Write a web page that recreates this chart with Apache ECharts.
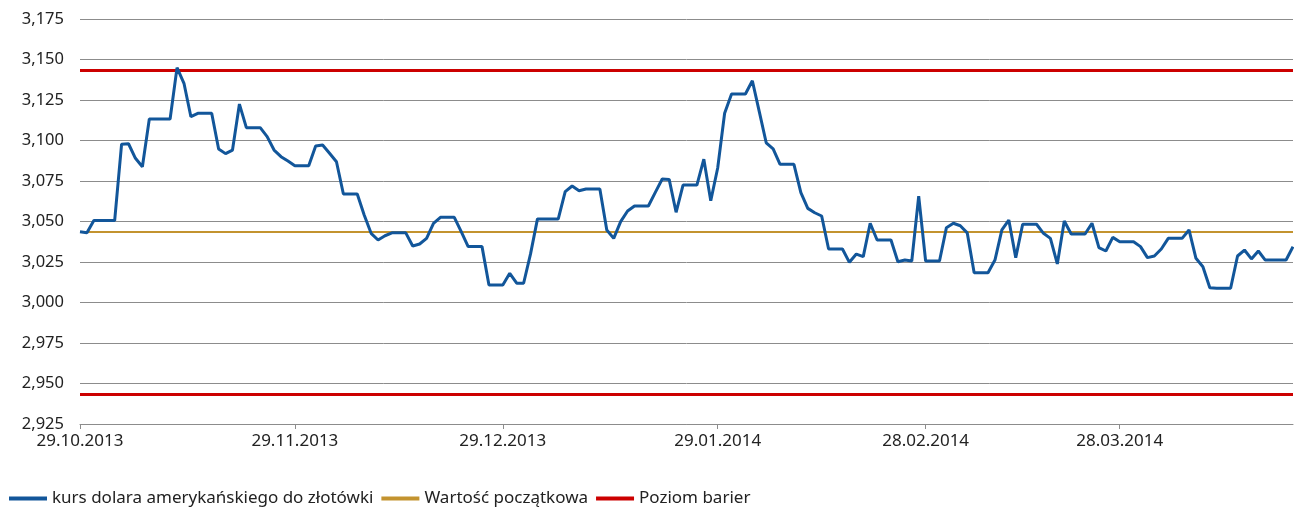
<!DOCTYPE html>
<html>
<head>
<meta charset="utf-8">
<script src="https://cdn.jsdelivr.net/npm/echarts@6/dist/echarts.min.js"></script>
<style>html,body{margin:0;padding:0;background:#fff}#c{width:1294px;height:508px}</style>
</head>
<body>
<div id="c"></div>
<script>
// Daily quotes from 29.10.2013 (weekends/holidays carry previous value)
var startDate = [2013, 10, 29];
var usdPln = [
3.0437,3.0431,3.0506,3.0506,3.0506,3.0506,3.0977,3.0980,3.0890,3.0838,
3.1133,3.1133,3.1133,3.1133,3.1450,3.1353,3.1147,3.1168,3.1168,3.1168,
3.0948,3.0919,3.0941,3.1225,3.1079,3.1079,3.1079,3.1024,3.0941,3.0900,
3.0873,3.0844,3.0844,3.0844,3.0966,3.0972,3.0921,3.0869,3.0670,3.0670,
3.0670,3.0540,3.0427,3.0386,3.0412,3.0430,3.0430,3.0430,3.0349,3.0361,
3.0396,3.0489,3.0526,3.0526,3.0526,3.0437,3.0345,3.0345,3.0345,3.0108,
3.0108,3.0108,3.0180,3.0119,3.0119,3.0300,3.0516,3.0516,3.0516,3.0516,
3.0684,3.0719,3.0690,3.0701,3.0701,3.0701,3.0448,3.0396,3.0499,3.0565,
3.0596,3.0596,3.0596,3.0680,3.0762,3.0760,3.0557,3.0725,3.0725,3.0725,
3.0885,3.0628,3.0830,3.1168,3.1287,3.1287,3.1287,3.1369,3.1178,3.0986,
3.0948,3.0853,3.0853,3.0853,3.0678,3.0581,3.0554,3.0534,3.0330,3.0330,
3.0330,3.0248,3.0299,3.0283,3.0489,3.0386,3.0386,3.0386,3.0252,3.0262,
3.0256,3.0657,3.0256,3.0256,3.0256,3.0462,3.0489,3.0474,3.0430,3.0184,
3.0184,3.0184,3.0262,3.0448,3.0509,3.0277,3.0483,3.0483,3.0483,3.0427,
3.0396,3.0238,3.0503,3.0423,3.0423,3.0423,3.0489,3.0339,3.0318,3.0402,
3.0375,3.0375,3.0375,3.0345,3.0277,3.0287,3.0330,3.0396,3.0396,3.0396,
3.0448,3.0273,3.0221,3.0091,3.0088,3.0088,3.0088,3.0287,3.0324,3.0269,
3.0318,3.0262,3.0262,3.0262,3.0262,3.0345
];
var initialValue = 3.0435;
var barrierLevels = [3.1435, 2.9435];
var tickLabels = ['29.10.2013','29.11.2013','29.12.2013','29.01.2014','28.02.2014','28.03.2014'];
var yTicks = { min: 2.925, max: 3.175, interval: 0.025 };

function pad(n){return (n<10?'0':'')+n;}
var categories = [];
var d = new Date(startDate[0], startDate[1]-1, startDate[2]);
for (var i = 0; i < usdPln.length; i++) {
  categories.push(pad(d.getDate())+'.'+pad(d.getMonth()+1)+'.'+d.getFullYear());
  d.setDate(d.getDate()+1);
}
function isTick(idx, val){ return tickLabels.indexOf(val !== undefined ? val : categories[idx]) >= 0; }

var FONT = '"Noto Sans", "Open Sans", sans-serif';
var chart = echarts.init(document.getElementById('c'), null, {renderer:'canvas'});
chart.setOption({
  animation: false,
  grid: { left: 80, right: 1, top: 19, bottom: 84, containLabel: false },
  legend: {
    left: 4, top: 485, itemGap: 8, itemWidth: 38, itemHeight: 4,
    textStyle: { fontFamily: FONT, fontSize: 17, color: '#222' },
    data: [
      { name: 'kurs dolara amerykańskiego do złotówki', icon: 'rect' },
      { name: 'Wartość początkowa', icon: 'rect' },
      { name: 'Poziom barier', icon: 'rect' }
    ]
  },
  xAxis: {
    type: 'category', data: categories, boundaryGap: false,
    axisLine: { show: true, lineStyle: { color: '#8c8c8c', width: 1 } },
    axisTick: { show: true, length: 5, interval: function(i, v){ return isTick(i, v); }, lineStyle: { color: '#8c8c8c' } },
    axisLabel: { interval: function(i, v){ return isTick(i, v); }, margin: 9,
      fontFamily: FONT, fontSize: 17, color: '#222' },
    splitLine: { show: false }
  },
  yAxis: {
    type: 'value', min: yTicks.min, max: yTicks.max, interval: yTicks.interval,
    axisLine: { show: false }, axisTick: { show: false },
    axisLabel: { margin: 16, fontFamily: FONT, fontSize: 16.5, color: '#222',
      formatter: function(v){ return v.toFixed(3).replace('.', ','); } },
    splitLine: { lineStyle: { color: '#8c8c8c', width: 1 } }
  },
  series: [
    {
      name: 'kurs dolara amerykańskiego do złotówki', type: 'line', data: usdPln,
      showSymbol: false, symbol: 'none', z: 5,
      itemStyle: { color: '#12569a' },
      lineStyle: { color: '#12569a', width: 3 }
    },
    {
      name: 'Wartość początkowa', type: 'line', data: [], symbol: 'none',
      itemStyle: { color: '#c3932f' }, lineStyle: { color: '#c3932f', width: 2 },
      markLine: { silent: true, precision: 4, symbol: ['none','none'], label: { show: false },
        lineStyle: { color: '#c3932f', width: 2, type: 'solid' },
        data: [ { yAxis: initialValue } ] }
    },
    {
      name: 'Poziom barier', type: 'line', data: [], symbol: 'none',
      itemStyle: { color: '#cc0000' }, lineStyle: { color: '#cc0000', width: 3 },
      markLine: { silent: true, precision: 4, symbol: ['none','none'], label: { show: false },
        lineStyle: { color: '#cc0000', width: 3, type: 'solid' },
        data: barrierLevels.map(function(b){ return { yAxis: b }; }) }
    }
  ]
});
</script>
</body>
</html>
